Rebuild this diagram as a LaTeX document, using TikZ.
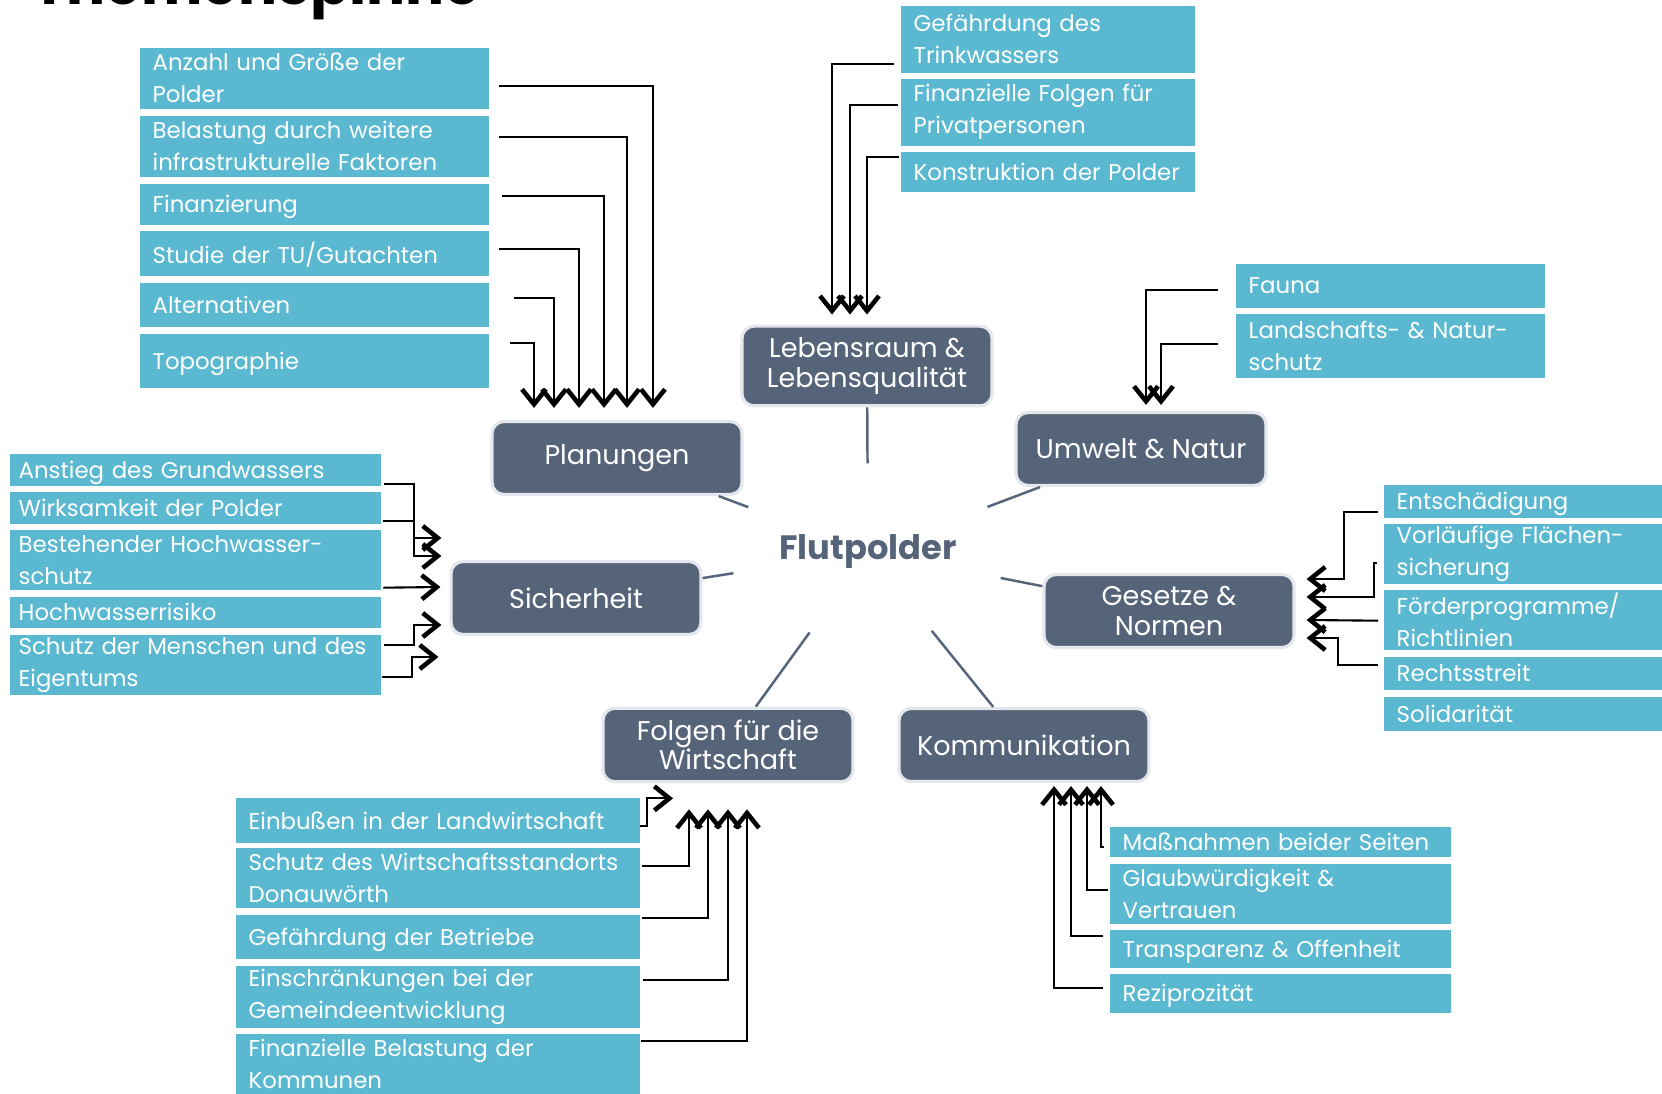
\documentclass[tikz,border=0pt]{standalone}
\usepackage{fontspec}
\setmainfont{Poppins}
\usetikzlibrary{arrows.meta,shapes.geometric,calc}

\definecolor{subblue}{HTML}{5AB9D1}
\definecolor{slate}{HTML}{56647A}
\definecolor{rim}{HTML}{E4E7EC}

\tikzset{
  sub/.style={fill=subblue, text=white, anchor=north west, align=left,
    inner xsep=1.3mm, inner ysep=0.2mm, text width=#1,
    font=\fontsize{6.5}{9.1}\selectfont},
  one/.style={text depth=0pt},
  topic/.style={fill=slate, draw=rim, line width=0.9pt, rounded corners=1.2mm,
    text=white, align=center, minimum width=25mm, minimum height=7.3mm,
    font=\fontsize{7.7}{8.3}\selectfont},
  spoke/.style={draw=slate, line width=0.7pt},
  feed/.style={draw=black, line width=0.6pt,
    -{Straight Barb[length=1.5mm,width=2.4mm,line width=1.3pt]}},
}

\begin{document}
\begin{tikzpicture}[x=0.1mm, y=-0.1mm]

  \useasboundingbox (0,0) rectangle (1662,1094);

  \node[anchor=base west, font=\fontsize{16.5}{19}\selectfont\bfseries] (title) at (20,5) {Themenspinne};

  % centre and topics
  \node[ellipse, minimum width=27.6mm, minimum height=17.6mm, inner sep=0,
    text=slate, font=\fontsize{9.6}{11}\selectfont\bfseries] (flut) at (868,552) {Flutpolder};

  \node[topic] (plan) at (617,458) {Planungen};
  \node[topic] (leb)  at (867,366) {Lebensraum \&\\Lebensqualität};
  \node[topic] (umw)  at (1141,449) {Umwelt \& Natur};
  \node[topic] (sich) at (576,598) {Sicherheit};
  \node[topic] (ges)  at (1169,611) {Gesetze \&\\Normen};
  \node[topic] (folg) at (728,745) {Folgen für die\\Wirtschaft};
  \node[topic] (komm) at (1024,745) {Kommunikation};

  \foreach \t in {plan,leb,umw,sich,ges,folg,komm}
    \draw[spoke] (flut) -- (\t);

  % Planungen
  \node[sub=32.3mm, minimum height=6.1mm] (pl1) at (139,47) {Anzahl und Größe der\\Polder};
  \node[sub=32.3mm, minimum height=6.1mm] (pl2) at (139,115) {Belastung durch weitere\\infrastrukturelle Faktoren};
  \node[sub=32.3mm, one, minimum height=4.1mm] (pl3) at (139,183) {Finanzierung};
  \node[sub=32.3mm, one, minimum height=4.5mm] (pl4) at (139,230) {Studie der TU/Gutachten};
  \node[sub=32.3mm, one, minimum height=4.4mm] (pl5) at (139,282) {Alternativen};
  \node[sub=32.3mm, one, minimum height=5.4mm] (pl6) at (139,333) {Topographie};

  \draw[feed] ($(pl1.east)+(10,7.5)$) -| ($(plan.north)+(36,-12)$);
  \draw[feed] ($(pl2.east)+(10,-9.5)$) -| ($(plan.north)+(10,-12)$);
  \draw[feed] ($(pl3.east)+(13,-8.5)$) -| ($(plan.north)+(-13,-12)$);
  \draw[feed] ($(pl4.east)+(10,-4.5)$) -| ($(plan.north)+(-38,-12)$);
  \draw[feed] ($(pl5.east)+(25,-7)$) -| ($(plan.north)+(-63,-12)$);
  \draw[feed] ($(pl6.east)+(21,-18)$) -| ($(plan.north)+(-83,-12)$);

  % Lebensraum
  \node[sub=26.8mm, minimum height=6.7mm] (le1) at (900,5) {Gefährdung des\\Trinkwassers};
  \node[sub=26.8mm, minimum height=6.7mm] (le2) at (900,78) {Finanzielle Folgen für\\Privatpersonen};
  \node[sub=26.8mm, one, minimum height=4mm] (le3) at (900,151) {Konstruktion der Polder};

  \draw[feed] ($(le1.west)+(-6,24.5)$) -| ($(leb.north)+(-35,-10)$);
  \draw[feed] ($(le2.west)+(-2,-7.5)$) -| ($(leb.north)+(-17,-10)$);
  \draw[feed] ($(le3.west)+(-1,-15)$) -| ($(leb.north)+(0,-10)$);

  % Umwelt
  \node[sub=28.3mm, one, minimum height=4.4mm] (um1) at (1235,263) {Fauna};
  \node[sub=28.3mm, minimum height=6.4mm] (um2) at (1235,313) {Landschafts- \& Natur-\\schutz};

  \draw[feed] ($(um1.west)+(-17,4)$) -| ($(umw.north)+(5,-6)$);
  \draw[feed] ($(um2.west)+(-17,-2)$) -| ($(umw.north)+(20,-6)$);

  % Sicherheit
  \node[sub=35.3mm, inner xsep=0.9mm, one, minimum height=3.2mm] (si1) at (9,453) {Anstieg des Grundwassers};
  \node[sub=35.3mm, inner xsep=0.9mm, one, minimum height=3.2mm] (si2) at (9,491) {Wirksamkeit der Polder};
  \node[sub=35.3mm, inner xsep=0.9mm, minimum height=6mm] (si3) at (9,529) {Bestehender Hochwasser-\\schutz};
  \node[sub=35.3mm, inner xsep=0.9mm, one, minimum height=3.1mm] (si4) at (9,596) {Hochwasserrisiko};
  \node[sub=35.3mm, inner xsep=0.9mm, minimum height=6mm] (si5) at (9,634) {Schutz der Menschen und des\\Eigentums};

  \draw[feed] ($(si1.east)+(3,14)$) -- ++(30,0) |- ($(sich.west)+(-8,-60)$);
  \draw[feed] ($(si2.east)+(2,13)$) -- ++(31,0) |- ($(sich.west)+(-8,-42)$);
  \draw[feed] ($(si3.east)+(2,28)$) -- ($(sich.west)+(-9,-11)$);
  \draw[feed] ($(si5.east)+(3,-20)$) -- ++(30,0) |- ($(sich.west)+(-8,27)$);
  \draw[feed] ($(si5.east)+(1,12)$) -- ++(30,0) |- ($(sich.west)+(-11,59)$);

  % Gesetze
  \node[sub=30mm, one, minimum height=3.3mm] (ge1) at (1383,484) {Entschädigung};
  \node[sub=30mm, minimum height=6mm] (ge2) at (1383,523) {Vorläufige Flächen-\\sicherung};
  \node[sub=30mm, minimum height=6mm] (ge3) at (1383,589) {Förderprogramme/\\Richtlinien};
  \node[sub=30mm, one, minimum height=3.3mm] (ge4) at (1383,656) {Rechtsstreit};
  \node[sub=30mm, one, minimum height=3.4mm] (ge5) at (1383,696) {Solidarität};

  \draw[feed] ($(ge1.west)+(-5,10.5)$) -- ++(-34,0) |- ($(ges.east)+(11,-32)$);
  \draw[feed] ($(ge2.west)+(-6,9)$) -- ++(-3,0) |- ($(ges.east)+(11,-14)$);
  \draw[feed] ($(ge3.west)+(-5,1)$) -- ($(ges.east)+(11,9)$);
  \draw[feed] ($(ge4.west)+(-5,-8.5)$) -- ++(-40,0) |- ($(ges.east)+(11,27)$);

  % Folgen
  \node[sub=37.8mm, one, minimum height=4.5mm] (fo1) at (235,797) {Einbußen in der Landwirtschaft};
  \node[sub=37.8mm, minimum height=6mm] (fo2) at (235,847) {Schutz des Wirtschaftsstandorts\\Donauwörth};
  \node[sub=37.8mm, one, minimum height=4.4mm] (fo3) at (235,914) {Gefährdung der Betriebe};
  \node[sub=37.8mm, minimum height=6.2mm] (fo4) at (235,965) {Einschränkungen bei der\\Gemeindeentwicklung};
  \node[sub=37.8mm, minimum height=6.1mm] (fo5) at (235,1033) {Finanzielle Belastung der\\Kommunen};

  \draw[feed] ($(fo1.east)+(0,5.5)$) -- ++(7,0) |- ($(folg.south)+(-55,15)$);
  \draw[feed] ($(fo2.east)+(2,-12)$) -| ($(folg.south)+(-39,26)$);
  \draw[feed] ($(fo3.east)+(2,-19)$) -| ($(folg.south)+(-20,26)$);
  \draw[feed] ($(fo4.east)+(3,-17)$) -| ($(folg.south)+(0,26)$);
  \draw[feed] ($(fo5.east)+(1,-23.5)$) -| ($(folg.south)+(19,26)$);

  % Kommunikation
  \node[sub=31.5mm, one, minimum height=3mm] (ko1) at (1109,826) {Maßnahmen beider Seiten};
  \node[sub=31.5mm, minimum height=6mm] (ko2) at (1109,863) {Glaubwürdigkeit \&\\Vertrauen};
  \node[sub=31.5mm, one, minimum height=3.8mm] (ko3) at (1109,929) {Transparenz \& Offenheit};
  \node[sub=31.5mm, one, minimum height=3.9mm] (ko4) at (1109,973) {Reziprozität};

  \draw[feed] ($(ko1.west)+(-5,5)$) -| ($(komm.south)+(77,3)$);
  \draw[feed] ($(ko2.west)+(-1,-4)$) -| ($(komm.south)+(63,3)$);
  \draw[feed] ($(ko3.west)+(-6,-13)$) -| ($(komm.south)+(47,3)$);
  \draw[feed] ($(ko4.west)+(-6,-5.5)$) -| ($(komm.south)+(30,3)$);

\end{tikzpicture}
\end{document}
